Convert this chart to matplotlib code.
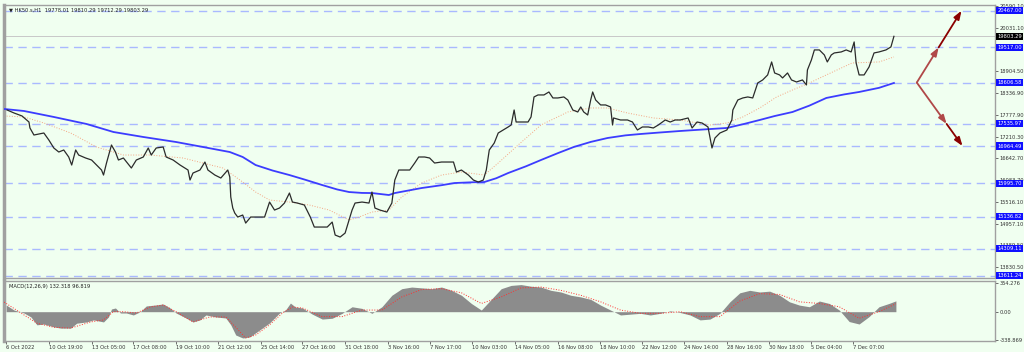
import matplotlib
matplotlib.use("Agg")
import matplotlib.pyplot as plt

# price path (bar index, close)
price_x = [3, 10, 18, 25, 26, 30, 40, 45, 50, 55, 60, 65, 68, 72, 75, 82, 88, 93, 98, 100,
           103, 108, 112, 115, 120, 128, 133, 140, 145, 148, 153, 160, 163, 170, 177, 185, 187, 190, 197, 202,
           205, 212, 218, 225, 227, 228, 230, 232, 235, 240, 243, 248, 253, 262, 267, 272, 277, 282, 287, 290,
           295, 302, 308, 312, 318, 325, 330, 333, 338, 343, 347, 350, 353, 360, 367, 370, 373, 378, 385, 390,
           393, 397, 402, 408, 413, 417, 423, 428, 433, 440, 448, 452, 455, 460, 467, 472, 477, 482, 485, 488,
           493, 497, 502, 507, 510, 513, 515, 520, 527, 530, 533, 537, 543, 548, 552, 557, 563, 567, 572, 577,
           580, 583, 587, 590, 592, 595, 600, 605, 610, 612, 613, 620, 627, 632, 637, 642, 648, 653, 658, 665,
           670, 675, 680, 688, 692, 697, 702, 708, 712, 715, 720, 727, 732, 733, 738, 743, 748, 753, 755, 758,
           763, 768, 772, 775, 780, 783, 788, 792, 797, 803, 807, 808, 812, 815, 820, 825, 828, 832, 835, 842,
           847, 852, 855, 857, 860, 865, 870, 875, 880, 887, 892, 895]
price_y = [17897, 17819, 17742, 17586, 17431, 17249, 17301, 17120, 16913, 16809, 16861, 16680, 16472, 16861, 16731, 16654, 16602, 16472, 16343, 16213,
           16524, 16990, 16809, 16602, 16654, 16395, 16602, 16680, 16913, 16731, 16913, 16939, 16680, 16602, 16472, 16343, 16084, 16265, 16343, 16550,
           16343, 16213, 16136, 16343, 16162, 15644, 15359, 15229, 15126, 15178, 14970, 15126, 15126, 15126, 15514, 15307, 15359, 15488, 15747, 15514,
           15488, 15437, 15126, 14867, 14867, 14867, 14996, 14660, 14608, 14711, 15048, 15307, 15488, 15514, 15488, 15773, 15359, 15307, 15255, 15488,
           16084, 16343, 16343, 16343, 16524, 16680, 16680, 16654, 16524, 16550, 16550, 16550, 16291, 16343, 16213, 16084, 16032, 16084, 16343, 16861,
           17042, 17301, 17379, 17457, 17508, 17897, 17586, 17586, 17586, 17716, 18234, 18286, 18286, 18363, 18208, 18208, 18234, 18156, 17897, 17845,
           17975, 17845, 17768, 18156, 18363, 18156, 18027, 18027, 17975, 17508, 17690, 17638, 17638, 17586, 17379, 17457, 17457, 17431, 17508, 17638,
           17586, 17638, 17638, 17690, 17431, 17586, 17560, 17457, 16913, 17172, 17301, 17379, 17638, 17897, 18156, 18208, 18234, 18208, 18363, 18596,
           18674, 18804, 19140, 18855, 18804, 18726, 18855, 18674, 18622, 18674, 18545, 18933, 19192, 19451, 19451, 19322, 19140, 19322, 19373, 19399,
           19451, 19399, 19658, 19114, 18804, 18804, 19011, 19373, 19399, 19451, 19529, 19803]

ma200_x = [0, 20, 50, 83, 110, 140, 173, 200, 227, 240, 253, 270, 287, 303, 320, 335, 347, 360, 370, 387,
           393, 420, 440, 453, 470, 483, 495, 507, 525, 540, 557, 573, 590, 607, 625, 640, 660, 680, 705, 727,
           745, 760, 775, 793, 810, 827, 845, 860, 880, 895]
ma200_y = [17923, 17871, 17716, 17534, 17327, 17198, 17068, 16939, 16809, 16680, 16472, 16330, 16213, 16090, 15954, 15840, 15773, 15750, 15747, 15696,
           15747, 15877, 15950, 16006, 16025, 16032, 16130, 16265, 16440, 16602, 16780, 16939, 17070, 17172, 17240, 17275, 17315, 17353, 17395, 17431,
           17540, 17638, 17740, 17845, 18010, 18208, 18300, 18363, 18470, 18596]

ma50_x = [0, 20, 40, 67, 93, 120, 147, 180, 200, 220, 233, 240, 253, 267, 287, 307, 327, 347, 357, 370,
          387, 400, 420, 440, 460, 483, 497, 517, 540, 567, 590, 607, 627, 653, 680, 710, 727, 743, 760, 777,
          793, 810, 827, 853, 880, 895]
ma50_y = [17742, 17716, 17560, 17301, 16939, 16731, 16731, 16654, 16524, 16395, 16162, 16032, 15773, 15566, 15514, 15437, 15307, 15048, 15126, 15255,
          15307, 15644, 16006, 16213, 16291, 16213, 16524, 16990, 17508, 17845, 17949, 17949, 17819, 17690, 17638, 17508, 17560, 17716, 17949, 18234,
          18415, 18596, 18804, 19114, 19140, 19270]

levels = [20467.00, 19517.00, 18606.58, 17535.97, 16964.49, 15995.70, 15136.82, 14309.11, 13611.24]
last_price = 19803.29
right_ticks = [20590.10, 20031.10, 18904.50, 18336.90, 17777.90, 17210.30, 16642.70,
               16083.70, 15516.10, 14957.10, 14389.50, 13830.50]

# projected paths drawn by hand on the chart
arrow_start = (918, 18606.58)
arrow_up = [(940, 19517.00), (963, 20467.00)]
arrow_down = [(948, 17535.97), (964, 16964.49)]

macd_x = [2, 10, 20, 27, 33, 40, 50, 57, 67, 73, 83, 90, 100, 105, 108, 112, 117, 123, 130, 137,
          143, 153, 160, 167, 173, 183, 190, 197, 203, 213, 223, 228, 233, 240, 247, 257, 267, 277, 283, 288,
          293, 300, 310, 320, 330, 340, 350, 360, 370, 380, 390, 400, 410, 420, 430, 440, 450, 460, 470, 480,
          490, 500, 510, 520, 530, 540, 550, 560, 570, 580, 590, 600, 610, 620, 630, 640, 650, 660, 670, 680,
          690, 700, 710, 720, 730, 740, 750, 760, 770, 780, 790, 800, 810, 820, 830, 840, 850, 860, 870, 880,
          890, 897]
macd_hist = [82, 20, -16, -64, -160, -150, -185, -200, -200, -140, -125, -100, -125, -64, 33, 45, -16, -16, -40, 0,
             70, 82, 94, 45, -16, -77, -125, -100, -40, -64, -77, -160, -284, -320, -308, -223, -137, -16, 20, 105,
             57, 45, -30, -90, -80, -20, 60, 40, -20, 60, 200, 280, 300, 290, 280, 300, 260, 200, 100, 20,
             150, 280, 320, 330, 310, 300, 260, 240, 200, 180, 150, 80, 20, -40, -30, -20, -40, -20, 10, -10,
             -40, -100, -90, -20, 120, 230, 260, 240, 250, 200, 120, 80, 60, 130, 100, 20, -120, -150, -60, 60,
             100, 132]
signal_x = [0, 17, 33, 50, 67, 87, 100, 110, 120, 133, 147, 160, 173, 190, 207, 223, 233, 243, 253, 267,
            280, 290, 300, 320, 340, 360, 380, 400, 420, 440, 460, 480, 500, 520, 540, 560, 580, 600, 620, 640,
            660, 680, 700, 720, 740, 760, 780, 800, 820, 840, 860, 880, 897]
signal_y = [117, -16, -140, -190, -200, -125, -100, 0, 0, -16, 57, 82, 0, -125, -64, -64, -190, -320, -284, -160,
            -16, 57, 45, -60, -60, 20, 20, 180, 270, 280, 230, 100, 180, 290, 300, 260, 200, 120, 20, -20,
            -20, 0, -60, -60, 130, 220, 210, 120, 100, 60, -80, 0, 97]

date_pos = [2, 45, 88, 130, 173, 215, 258, 300, 343, 386, 428, 471, 514, 557, 599, 642, 684, 727, 769, 812, 854]
date_labels = ["6 Oct 2022", "10 Oct 19:00", "13 Oct 05:00", "17 Oct 08:00", "19 Oct 10:00", "21 Oct 12:00",
               "25 Oct 14:00", "27 Oct 16:00", "31 Oct 18:00", "3 Nov 16:00", "7 Nov 17:00", "10 Nov 03:00",
               "14 Nov 05:00", "16 Nov 08:00", "18 Nov 10:00", "22 Nov 12:00", "24 Nov 14:00", "28 Nov 16:00",
               "30 Nov 18:00", "5 Dec 04:00", "7 Dec 07:00"]

BG = "#f0fff0"
FRAME = "#a0a0a0"
FS = 3.7

fig = plt.figure(figsize=(10.24, 3.52), dpi=100, facecolor=BG)
ax = fig.add_axes([0.004, 0.21, 0.968, 0.776], facecolor=BG)
ax2 = fig.add_axes([0.004, 0.031, 0.968, 0.171], facecolor=BG, sharex=ax)

# main price panel
for lv in levels:
    ax.axhline(lv, color="#a9b9ff", lw=1.0, ls=(0, (6, 4)), zorder=1)
ax.axhline(last_price, color="#c8c8c8", lw=0.7, zorder=1)
ax.plot(ma50_x, ma50_y, color="#f4a582", lw=0.7, ls=":", zorder=2)
ax.plot(ma200_x, ma200_y, color="#3c3cff", lw=1.3, zorder=3)
ax.plot(price_x, price_y, color="#2b2b2b", lw=0.9, zorder=4)

for pts in (arrow_up, arrow_down):
    prev = arrow_start
    for i, p in enumerate(pts):
        col = "#b04848" if i == 0 else "#8b0000"
        ax.annotate("", xy=p, xytext=prev,
                    arrowprops=dict(arrowstyle="-|>,head_length=0.5,head_width=0.18",
                                    color=col, lw=1.3, shrinkA=0, shrinkB=0), zorder=5)
        prev = p

ax.set_xlim(0, 997)
ax.set_ylim(13546, 20616)
ax.yaxis.tick_right()
ax.set_yticks(right_ticks)
ax.set_yticklabels([f"{v:.2f}" for v in right_ticks])
ax.tick_params(axis="y", labelsize=FS, colors="#333333", length=2, pad=1, width=0.5)
ax.tick_params(axis="x", bottom=False, labelbottom=False)

for lv in levels:
    ax.text(1.002, lv, f"{lv:.2f}", transform=ax.get_yaxis_transform(), fontsize=FS,
            color="white", va="center", ha="left",
            bbox=dict(boxstyle="square,pad=0.2", fc="#1010ff", ec="none"), zorder=6)
ax.text(1.002, last_price, f"{last_price:.2f}", transform=ax.get_yaxis_transform(), fontsize=FS,
        color="white", va="center", ha="left",
        bbox=dict(boxstyle="square,pad=0.2", fc="black", ec="none"), zorder=6)

ax.text(0.005, 0.99, "\u25bc HK50.s,H1  19778.01 19810.29 19712.29 19803.29", transform=ax.transAxes,
        fontsize=FS, va="top", ha="left", color="#222222")

# MACD panel
ax2.fill_between(macd_x, macd_hist, 0, color="#8c8c8c", lw=0, zorder=2)
ax2.plot(signal_x, signal_y, color="#ff3030", lw=0.7, ls=":", zorder=3)
ax2.set_ylim(-358, 375)
ax2.yaxis.tick_right()
ax2.set_yticks([354.276, 0.0, -338.869])
ax2.set_yticklabels(["354.276", "0.00", "-338.869"])
ax2.tick_params(axis="y", labelsize=FS, colors="#333333", length=2, pad=1, width=0.5)
ax2.set_xticks(date_pos)
ax2.set_xticklabels(date_labels, ha="left")
ax2.tick_params(axis="x", labelsize=FS, colors="#333333", length=2, pad=1, width=0.5)
ax2.text(0.005, 0.95, "MACD(12,26,9) 132.318 96.819", transform=ax2.transAxes,
         fontsize=FS, va="top", ha="left", color="#222222")

for a in (ax, ax2):
    for s in a.spines.values():
        s.set_color(FRAME)
        s.set_linewidth(1.0)
    a.spines["left"].set_linewidth(2.5)

fig.savefig("out.png", dpi=100, facecolor=BG)
